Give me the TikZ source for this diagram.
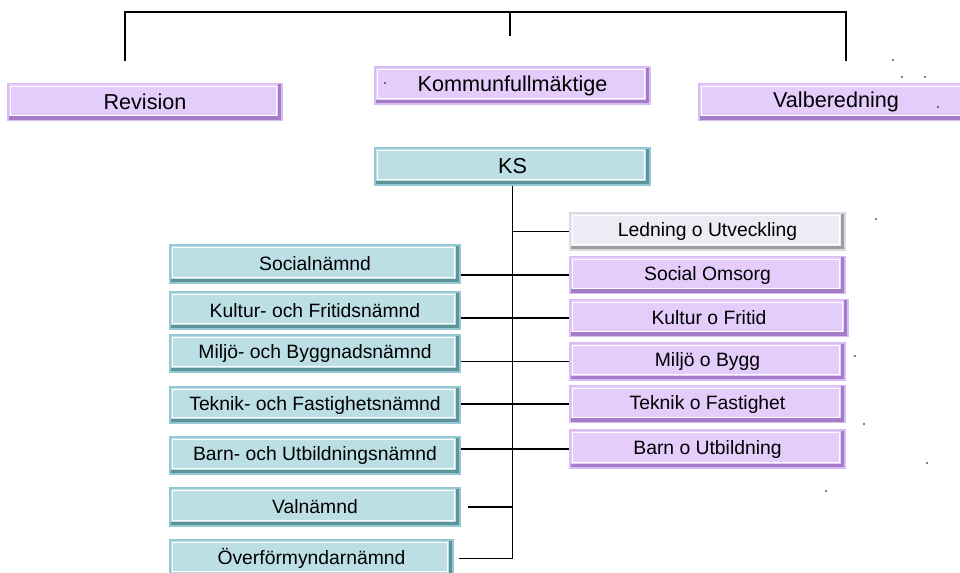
\documentclass[tikz,border=0pt]{standalone}
\usepackage{fontspec}
\setmainfont{Liberation Sans}
\usetikzlibrary{calc}

\definecolor{lilaFill}{HTML}{E4CCFB}
\definecolor{lilaRim}{HTML}{D9BCF4}
\definecolor{lilaDark}{HTML}{A67CC9}
\definecolor{blaFill}{HTML}{BCDFE5}
\definecolor{blaRim}{HTML}{92C9D2}
\definecolor{blaDark}{HTML}{5E939A}
\definecolor{graFill}{HTML}{EDECF4}
\definecolor{graRim}{HTML}{DCDBE4}
\definecolor{graDark}{HTML}{9D9D9D}

\begin{document}
\begin{tikzpicture}[x=0.02cm,y=-0.02cm,line width=1pt,
        bevel/.style n args={3}{fill=#1,draw=#2,line width=0.7pt,inner sep=0pt,
            minimum height=37*0.02cm,
            path picture={
                \draw[white,line width=0.7pt]
                    ([shift={(1.5pt,-1.5pt)}]path picture bounding box.north west) rectangle
                    ([shift={(-3pt,3pt)}]path picture bounding box.south east);
                \fill[#3] (path picture bounding box.south west) rectangle
                    ([yshift=2.4pt]path picture bounding box.south east);
                \fill[#3] ([xshift=-2.4pt]path picture bounding box.south east) rectangle
                    (path picture bounding box.north east);
            }},
        lila/.style={bevel={lilaFill}{lilaRim}{lilaDark}},
        bla/.style={bevel={blaFill}{blaRim}{blaDark}},
        gra/.style={bevel={graFill}{graRim}{graDark}},
        stor/.style={font=\fontsize{12.3}{14}\selectfont,minimum width=274*0.02cm},
        hoger/.style={font=\fontsize{11}{13}\selectfont,minimum width=275*0.02cm},
        vanster/.style={font=\fontsize{11}{13}\selectfont,minimum width=290*0.02cm}]

        \useasboundingbox (0,0) rectangle (960,572);

        % fullmaktige och revision
        \node[lila,stor] (REV) at (145,102) {Revision};
        \node[lila,stor,minimum width=275*0.02cm] (KF) at (512.5,85.5) {Kommunfullmäktige};
        \node[lila,stor] (VAL) at (836,102) {Valberedning};
        \node[bla,stor,minimum width=275*0.02cm] (KS) at (512.5,166.5) {KS};

        \coordinate (REV_t) at (125,61);
        \coordinate (KF_t) at (510,36);
        \coordinate (VAL_t) at (846,61);
        \coordinate (TOP) at (510,12);

        % forvaltningar
        \node[gra,hoger] (F_led) at (707.5,231.5) {Ledning o Utveckling};
        \node[lila,hoger] (F_soc) at (707.5,275) {Social Omsorg};
        \node[lila,hoger,minimum width=278*0.02cm] (F_kul) at (709,318) {Kultur o Fritid};
        \node[lila,hoger] (F_mil) at (707.5,361.5) {Miljö o Bygg};
        \node[lila,hoger] (F_tek) at (707.5,404) {Teknik o Fastighet};
        \node[lila,hoger,minimum height=38*0.02cm] (F_bar) at (707.5,449) {Barn o Utbildning};

        % namnder
        \node[bla,vanster,minimum height=38*0.02cm] (N_soc) at (315,264) {Socialnämnd};
        \node[bla,vanster] (N_kul) at (315,310.5) {Kultur- och Fritidsnämnd};
        \node[bla,vanster] (N_mil) at (315,353.5) {Miljö- och Byggnadsnämnd};
        \node[bla,vanster,minimum height=36*0.02cm] (N_tek) at (315,405) {Teknik- och Fastighetsnämnd};
        \node[bla,vanster] (N_bar) at (315,455.5) {Barn- och Utbildningsnämnd};
        \node[bla,vanster,minimum height=38*0.02cm] (N_val) at (315,507) {Valnämnd};
        \node[bla,vanster,minimum width=283*0.02cm] (N_ovf) at (311.5,558.5) {Överförmyndarnämnd};

        \draw (REV_t) |- (TOP) -| (VAL_t);
        \draw (TOP) -- (KF_t);

        \draw (KS.south) -- (KS.south |- N_ovf.east);
        \draw (KS.south |- F_led.west) -- (F_led.west);
        \draw (N_soc.east |- F_soc.west) -- (F_soc.west);
        \draw (N_kul.east |- F_kul.west) -- (F_kul.west);
        \draw (N_mil.east |- F_mil.west) -- (F_mil.west);
        \draw (N_tek.east |- F_tek.west) -- (F_tek.west);
        \draw (N_bar.east |- F_bar.west) -- (F_bar.west);
        \draw ([xshift=4]N_val.east) -- (KS.south |- N_val.east);
        \draw ([xshift=3]N_ovf.east) -- (KS.south |- N_ovf.east);

        % smaprickar
        \foreach \p in {(385,83),(893,60),(902,77),(925,77),(938,107),(876,219),(855,356),(864,424),(927,463),(826,491)}
            \fill \p circle (0.8);
    \end{tikzpicture}
\end{document}
